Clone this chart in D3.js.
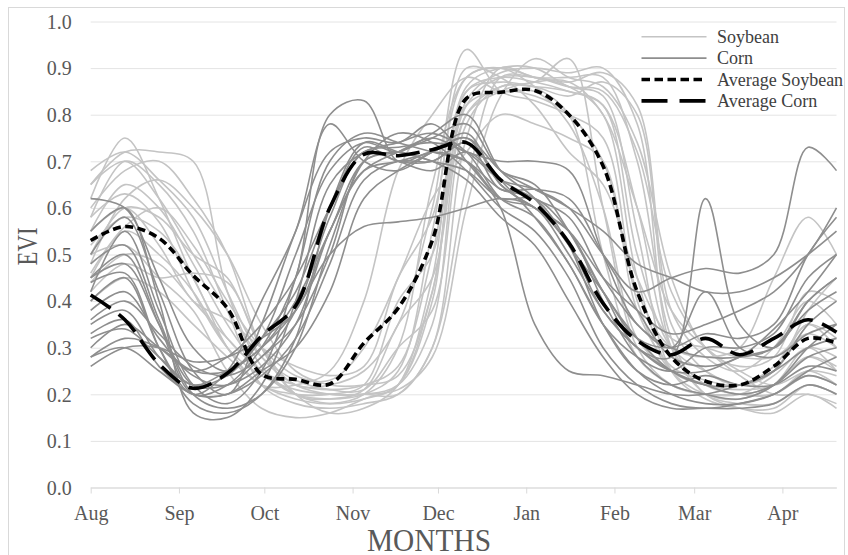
<!DOCTYPE html>
<html>
<head>
<meta charset="utf-8">
<script src="https://cdn.jsdelivr.net/npm/d3@7/dist/d3.min.js"></script>
<style>
  body { margin: 0; background: #fff; }
</style>
</head>
<body>
<div id="chart"></div>
<script>
// sample dates (12 day steps), shared by every series
const dates = ["2014-08-01", "2014-08-13", "2014-08-25", "2014-09-06", "2014-09-18", "2014-09-30",
  "2014-10-12", "2014-10-24", "2014-11-05", "2014-11-17", "2014-11-29", "2014-12-11",
  "2014-12-23", "2015-01-04", "2015-01-16", "2015-01-28", "2015-02-09", "2015-02-21",
  "2015-03-05", "2015-03-17", "2015-03-29", "2015-04-10", "2015-04-20"];

const monthTicks = ["2014-08-01", "2014-09-01", "2014-10-01", "2014-11-01", "2014-12-01",
  "2015-01-01", "2015-02-01", "2015-03-01", "2015-04-01"];
const eviTicks = [0.0, 0.1, 0.2, 0.3, 0.4, 0.5, 0.6, 0.7, 0.8, 0.9, 1.0];
const legendLabels = ["Soybean", "Corn", "Average Soybean", "Average Corn"];

const soybean = [
  [0.62, 0.75, 0.62, 0.45, 0.32, 0.25, 0.20, 0.19, 0.20, 0.25, 0.55, 0.88, 0.90, 0.88, 0.86, 0.80, 0.45, 0.25, 0.20, 0.19, 0.22, 0.30, 0.25],
  [0.65, 0.72, 0.72, 0.70, 0.42, 0.26, 0.20, 0.18, 0.19, 0.22, 0.40, 0.85, 0.88, 0.87, 0.85, 0.82, 0.60, 0.30, 0.22, 0.20, 0.20, 0.25, 0.22],
  [0.58, 0.70, 0.65, 0.55, 0.38, 0.22, 0.18, 0.17, 0.18, 0.20, 0.30, 0.75, 0.90, 0.88, 0.88, 0.88, 0.70, 0.32, 0.20, 0.18, 0.18, 0.22, 0.20],
  [0.50, 0.60, 0.58, 0.50, 0.45, 0.30, 0.22, 0.22, 0.25, 0.35, 0.60, 0.94, 0.85, 0.83, 0.80, 0.75, 0.40, 0.25, 0.22, 0.20, 0.22, 0.28, 0.25],
  [0.45, 0.55, 0.50, 0.42, 0.30, 0.22, 0.20, 0.20, 0.22, 0.40, 0.50, 0.85, 0.87, 0.86, 0.84, 0.87, 0.80, 0.35, 0.25, 0.22, 0.25, 0.35, 0.30],
  [0.55, 0.65, 0.60, 0.48, 0.35, 0.25, 0.20, 0.20, 0.20, 0.22, 0.35, 0.80, 0.86, 0.87, 0.92, 0.60, 0.30, 0.22, 0.20, 0.20, 0.20, 0.24, 0.22],
  [0.48, 0.62, 0.66, 0.60, 0.50, 0.35, 0.25, 0.22, 0.22, 0.24, 0.42, 0.82, 0.88, 0.88, 0.87, 0.89, 0.82, 0.38, 0.28, 0.25, 0.30, 0.40, 0.35],
  [0.40, 0.45, 0.42, 0.35, 0.28, 0.22, 0.19, 0.18, 0.20, 0.30, 0.65, 0.88, 0.90, 0.86, 0.80, 0.50, 0.28, 0.22, 0.20, 0.20, 0.24, 0.30, 0.28],
  [0.52, 0.58, 0.55, 0.45, 0.30, 0.22, 0.22, 0.25, 0.40, 0.68, 0.80, 0.88, 0.85, 0.85, 0.78, 0.60, 0.32, 0.25, 0.22, 0.21, 0.22, 0.28, 0.26],
  [0.60, 0.68, 0.70, 0.62, 0.50, 0.30, 0.20, 0.16, 0.17, 0.22, 0.45, 0.86, 0.90, 0.90, 0.86, 0.84, 0.55, 0.25, 0.19, 0.17, 0.17, 0.22, 0.20],
  [0.44, 0.50, 0.48, 0.40, 0.32, 0.25, 0.22, 0.21, 0.22, 0.26, 0.50, 0.82, 0.85, 0.84, 0.80, 0.70, 0.42, 0.30, 0.28, 0.30, 0.45, 0.58, 0.50],
  [0.65, 0.70, 0.62, 0.50, 0.38, 0.28, 0.23, 0.21, 0.21, 0.30, 0.38, 0.78, 0.86, 0.86, 0.85, 0.82, 0.50, 0.30, 0.25, 0.22, 0.25, 0.38, 0.45],
  [0.50, 0.52, 0.45, 0.38, 0.25, 0.17, 0.15, 0.16, 0.19, 0.22, 0.42, 0.83, 0.89, 0.90, 0.89, 0.90, 0.78, 0.30, 0.20, 0.17, 0.16, 0.20, 0.17],
  [0.55, 0.60, 0.52, 0.40, 0.36, 0.30, 0.26, 0.24, 0.26, 0.45, 0.58, 0.90, 0.88, 0.82, 0.72, 0.65, 0.45, 0.32, 0.30, 0.28, 0.28, 0.33, 0.30],
  [0.42, 0.48, 0.45, 0.46, 0.44, 0.30, 0.20, 0.19, 0.21, 0.35, 0.45, 0.80, 0.85, 0.87, 0.87, 0.80, 0.60, 0.38, 0.30, 0.25, 0.22, 0.25, 0.24],
  [0.68, 0.72, 0.66, 0.58, 0.42, 0.28, 0.22, 0.20, 0.20, 0.20, 0.30, 0.65, 0.88, 0.88, 0.86, 0.85, 0.72, 0.42, 0.30, 0.24, 0.20, 0.20, 0.18],
  [0.46, 0.56, 0.60, 0.52, 0.40, 0.30, 0.24, 0.23, 0.30, 0.45, 0.62, 0.72, 0.80, 0.78, 0.75, 0.70, 0.38, 0.26, 0.23, 0.22, 0.26, 0.35, 0.32],
  [0.58, 0.63, 0.57, 0.42, 0.30, 0.24, 0.21, 0.20, 0.20, 0.21, 0.28, 0.60, 0.84, 0.92, 0.88, 0.86, 0.74, 0.45, 0.30, 0.26, 0.28, 0.42, 0.40]
];

const corn = [
  [0.45, 0.50, 0.35, 0.20, 0.22, 0.30, 0.45, 0.80, 0.83, 0.70, 0.72, 0.70, 0.62, 0.60, 0.52, 0.38, 0.30, 0.25, 0.22, 0.20, 0.22, 0.28, 0.30],
  [0.40, 0.45, 0.30, 0.20, 0.25, 0.40, 0.55, 0.78, 0.70, 0.68, 0.72, 0.75, 0.65, 0.60, 0.55, 0.40, 0.28, 0.22, 0.20, 0.19, 0.22, 0.30, 0.35],
  [0.35, 0.38, 0.28, 0.22, 0.25, 0.30, 0.40, 0.55, 0.70, 0.72, 0.70, 0.68, 0.62, 0.62, 0.55, 0.42, 0.30, 0.28, 0.62, 0.35, 0.30, 0.40, 0.45],
  [0.30, 0.35, 0.30, 0.25, 0.28, 0.35, 0.45, 0.60, 0.72, 0.73, 0.74, 0.72, 0.66, 0.64, 0.60, 0.50, 0.42, 0.45, 0.47, 0.46, 0.50, 0.73, 0.68],
  [0.55, 0.60, 0.40, 0.16, 0.15, 0.22, 0.40, 0.65, 0.72, 0.74, 0.76, 0.72, 0.62, 0.58, 0.48, 0.35, 0.25, 0.20, 0.18, 0.18, 0.20, 0.25, 0.28],
  [0.38, 0.42, 0.32, 0.24, 0.22, 0.28, 0.35, 0.50, 0.70, 0.72, 0.75, 0.78, 0.68, 0.65, 0.55, 0.42, 0.32, 0.25, 0.22, 0.22, 0.25, 0.35, 0.40],
  [0.28, 0.32, 0.30, 0.25, 0.25, 0.30, 0.38, 0.50, 0.56, 0.57, 0.58, 0.60, 0.62, 0.60, 0.50, 0.38, 0.30, 0.25, 0.25, 0.28, 0.30, 0.38, 0.42],
  [0.50, 0.58, 0.42, 0.25, 0.20, 0.35, 0.55, 0.72, 0.75, 0.74, 0.78, 0.70, 0.60, 0.35, 0.25, 0.24, 0.22, 0.20, 0.20, 0.22, 0.25, 0.30, 0.32],
  [0.45, 0.48, 0.35, 0.22, 0.22, 0.26, 0.35, 0.55, 0.68, 0.72, 0.75, 0.72, 0.70, 0.70, 0.68, 0.50, 0.35, 0.30, 0.28, 0.28, 0.30, 0.40, 0.45],
  [0.33, 0.36, 0.26, 0.20, 0.20, 0.24, 0.32, 0.48, 0.66, 0.70, 0.70, 0.74, 0.66, 0.58, 0.48, 0.35, 0.28, 0.25, 0.30, 0.30, 0.33, 0.45, 0.50],
  [0.62, 0.60, 0.45, 0.30, 0.25, 0.32, 0.50, 0.68, 0.74, 0.72, 0.76, 0.80, 0.68, 0.62, 0.52, 0.42, 0.32, 0.30, 0.33, 0.32, 0.35, 0.50, 0.58],
  [0.28, 0.30, 0.25, 0.20, 0.20, 0.25, 0.30, 0.42, 0.62, 0.68, 0.72, 0.76, 0.65, 0.60, 0.55, 0.45, 0.38, 0.33, 0.35, 0.38, 0.42, 0.50, 0.60],
  [0.42, 0.55, 0.38, 0.22, 0.18, 0.25, 0.45, 0.70, 0.76, 0.74, 0.72, 0.70, 0.64, 0.62, 0.52, 0.35, 0.25, 0.22, 0.24, 0.22, 0.22, 0.26, 0.25],
  [0.36, 0.40, 0.33, 0.26, 0.24, 0.28, 0.38, 0.58, 0.72, 0.70, 0.68, 0.72, 0.66, 0.62, 0.58, 0.45, 0.35, 0.30, 0.42, 0.30, 0.28, 0.33, 0.35],
  [0.48, 0.52, 0.36, 0.20, 0.17, 0.20, 0.30, 0.52, 0.70, 0.76, 0.74, 0.68, 0.60, 0.55, 0.45, 0.30, 0.22, 0.18, 0.17, 0.18, 0.20, 0.24, 0.22],
  [0.32, 0.34, 0.28, 0.22, 0.24, 0.32, 0.42, 0.60, 0.73, 0.70, 0.70, 0.74, 0.64, 0.64, 0.62, 0.50, 0.38, 0.28, 0.26, 0.28, 0.34, 0.42, 0.50],
  [0.26, 0.30, 0.30, 0.27, 0.28, 0.32, 0.38, 0.55, 0.68, 0.70, 0.72, 0.75, 0.68, 0.64, 0.60, 0.55, 0.48, 0.45, 0.42, 0.42, 0.45, 0.50, 0.55],
  [0.44, 0.46, 0.30, 0.18, 0.16, 0.20, 0.32, 0.60, 0.74, 0.72, 0.70, 0.66, 0.58, 0.52, 0.40, 0.28, 0.20, 0.17, 0.17, 0.17, 0.18, 0.22, 0.20]
];

const avgSoybean = [0.53, 0.56, 0.535, 0.455, 0.385, 0.243, 0.232, 0.222, 0.31, 0.385, 0.53, 0.835,
  0.848, 0.852, 0.80, 0.69, 0.42, 0.28, 0.228, 0.22, 0.26, 0.32, 0.31];
const avgCorn = [0.413, 0.36, 0.265, 0.213, 0.245, 0.325, 0.39, 0.60, 0.715, 0.712, 0.725, 0.74,
  0.66, 0.61, 0.525, 0.395, 0.315, 0.285, 0.32, 0.285, 0.32, 0.36, 0.333];

const W = 848, H = 555;
const plotLeft = 90.7, plotRight = 836.5, plotTop = 21.5, plotBottom = 487.5;
const serif = "'Liberation Serif', 'Times New Roman', Times, serif";
const parse = d3.timeParse("%Y-%m-%d");
const days = dates.map(parse);

const svg = d3.select("#chart")
  .append("svg")
    .attr("width", W)
    .attr("height", H)
    .style("font-family", serif);

// outer frame
svg.append("rect")
  .attr("x", 8.5)
  .attr("y", 7.5)
  .attr("width", 836)
  .attr("height", 560)
  .attr("fill", "none")
  .attr("stroke", "#d9d9d9");

const x = d3.scaleTime()
  .domain([parse("2014-08-01"), parse("2015-04-20")])
  .range([plotLeft, plotRight]);
const y = d3.scaleLinear()
  .domain([0, 1])
  .range([plotBottom, plotTop]);

// y axis + gridlines
const yAxis = svg.append("g")
  .attr("transform", "translate(" + plotLeft + ",0)")
  .call(d3.axisLeft(y)
    .tickValues(eviTicks)
    .tickFormat(d3.format(".1f"))
    .tickSize(-(plotRight - plotLeft)));
yAxis.attr("font-family", null);
yAxis.select(".domain").remove();
yAxis.selectAll(".tick line")
  .attr("stroke", "#e4e4e4");
yAxis.selectAll(".tick text")
  .attr("x", -19)
  .attr("dy", "0.34em")
  .attr("fill", "#595959")
  .style("font-family", serif)
  .style("font-size", "20px");

// x axis
const xAxis = svg.append("g")
  .attr("transform", "translate(0," + plotBottom + ")")
  .call(d3.axisBottom(x)
    .tickValues(monthTicks.map(parse))
    .tickFormat(d3.timeFormat("%b"))
    .tickSize(6)
    .tickSizeOuter(0));
xAxis.attr("font-family", null);
xAxis.select(".domain")
  .attr("stroke", "#d9d9d9");
xAxis.selectAll(".tick line")
  .attr("stroke", "#d9d9d9");
xAxis.selectAll(".tick text")
  .attr("y", 32)
  .attr("dy", 0)
  .attr("fill", "#595959")
  .style("font-family", serif)
  .style("font-size", "20px");

const line = d3.line()
  .x(function (d, i) { return x(days[i]); })
  .y(function (d) { return y(d); })
  .curve(d3.curveCatmullRom);

const lines = svg.append("g").attr("fill", "none");

lines.selectAll("path.soy")
  .data(soybean)
  .enter().append("path")
    .attr("class", "soy")
    .attr("d", line)
    .attr("stroke", "#c4c4c4")
    .attr("stroke-width", 1.6);

lines.selectAll("path.corn")
  .data(corn)
  .enter().append("path")
    .attr("class", "corn")
    .attr("d", line)
    .attr("stroke", "#8e8e8e")
    .attr("stroke-width", 1.6);

lines.append("path")
  .attr("d", line(avgCorn))
  .attr("stroke", "#000")
  .attr("stroke-width", 3.6)
  .attr("stroke-dasharray", "24,10");

lines.append("path")
  .attr("d", line(avgSoybean))
  .attr("stroke", "#000")
  .attr("stroke-width", 3.6)
  .attr("stroke-dasharray", "8,4.5");

// legend
const legendStyle = [
  { color: "#c4c4c4", width: 1.6, dash: null },
  { color: "#8e8e8e", width: 1.6, dash: null },
  { color: "#000", width: 3.6, dash: "8.5,4.5" },
  { color: "#000", width: 3.6, dash: "26,12" }
];
const legend = svg.append("g")
  .selectAll("g")
  .data(legendLabels)
  .enter().append("g")
    .attr("transform", function (d, i) { return "translate(0," + (36.7 + i * 21.4) + ")"; });
legend.append("line")
  .attr("x1", 641.5)
  .attr("x2", 706.5)
  .attr("stroke", function (d, i) { return legendStyle[i].color; })
  .attr("stroke-width", function (d, i) { return legendStyle[i].width; })
  .attr("stroke-dasharray", function (d, i) { return legendStyle[i].dash; });
legend.append("text")
  .attr("x", 717)
  .attr("y", 6)
  .attr("fill", "#404040")
  .style("font-family", serif)
  .style("font-size", "18px")
  .text(function (d) { return d; });

// axis titles
svg.append("text")
  .attr("transform", "translate(37,246.5) rotate(-90)")
  .attr("text-anchor", "middle")
  .attr("fill", "#595959")
  .attr("textLength", 38)
  .attr("lengthAdjust", "spacingAndGlyphs")
  .style("font-family", serif)
  .style("font-size", "29px")
  .text("EVI");

svg.append("text")
  .attr("x", 429)
  .attr("y", 551)
  .attr("text-anchor", "middle")
  .attr("fill", "#595959")
  .attr("textLength", 124)
  .attr("lengthAdjust", "spacingAndGlyphs")
  .style("font-family", serif)
  .style("font-size", "31px")
  .text("MONTHS");
</script>
</body>
</html>
